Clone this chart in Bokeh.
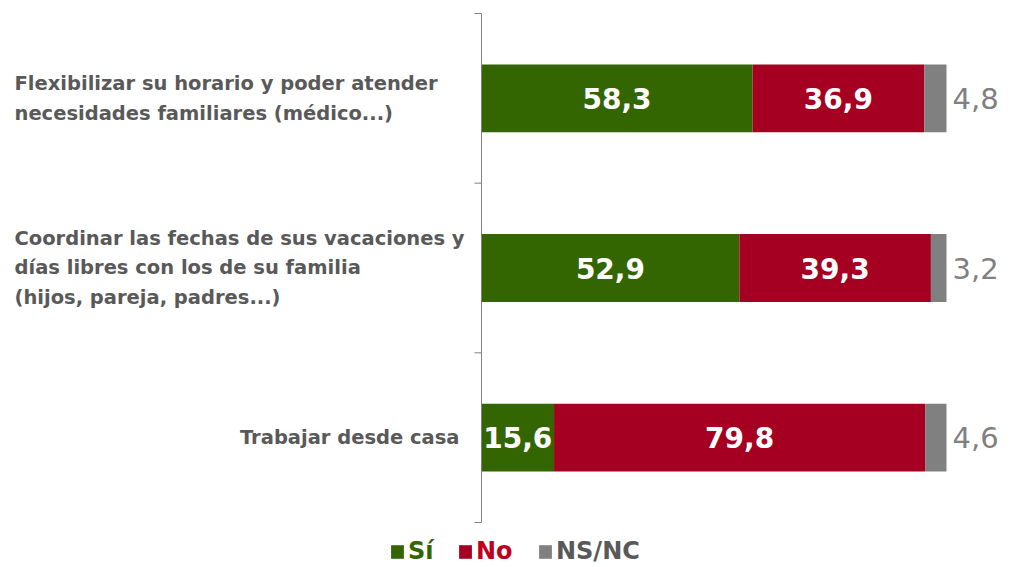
from bokeh.plotting import figure
from bokeh.models import ColumnDataSource, Legend, LegendItem, Range1d
from bokeh.core.properties import value
from bokeh.embed import file_html
from bokeh.resources import INLINE

# ---- data ----
categories = [
    "Flexibilizar su horario y poder atender\nnecesidades familiares (médico...)",
    "Coordinar las fechas de sus vacaciones y\ndías libres con los de su familia\n(hijos, pareja, padres...)",
    "Trabajar desde casa",
]
si = [58.3, 52.9, 15.6]
no = [36.9, 39.3, 79.8]
nsnc = [4.8, 3.2, 4.6]
series = ["Sí", "No", "NS/NC"]

colors = {"Sí": "#336600", "No": "#A50021", "NS/NC": "#808080"}
label_colors = {"Sí": "#336600", "No": "#C00020", "NS/NC": "#595959"}

def fmt(v):
    return f"{v:.1f}".replace(".", ",")

n = len(categories)
ypos = [n - 0.5 - i for i in range(n)]

# 100% stacked: each bar scaled to its row total
tot = [a + b + c for a, b, c in zip(si, no, nsnc)]
si_p = [100 * a / t for a, t in zip(si, tot)]
no_p = [100 * a / t for a, t in zip(no, tot)]
ns_p = [100 * a / t for a, t in zip(nsnc, tot)]

W, H = 1019, 565
# frame geometry in screen px (Bokeh page has no body margin)
L_screen, T_screen = 0, 0
R_screen, B_screen = W, H
x0_px, x100_px = 481, 946
sx = (x100_px - x0_px) / 100.0
y3_px, y0_px = 13, 522
sy = (y0_px - y3_px) / float(n)

x_start = -(x0_px - L_screen) / sx
x_end = (R_screen - x0_px) / sx
y_end = n + (y3_px - T_screen) / sy
y_start = -(B_screen - y0_px) / sy

p = figure(width=W, height=H, output_backend="svg", toolbar_location=None,
           x_range=Range1d(x_start, x_end), y_range=Range1d(y_start, y_end),
           x_axis_location=None, y_axis_location=None,
           min_border=0, outline_line_color=None, background_fill_color="white")
p.grid.visible = False

src = ColumnDataSource(dict(y=ypos, si=si_p, no=no_p, nsnc=ns_p))
rs = p.hbar_stack(["si", "no", "nsnc"], y="y", height=0.4, source=src,
                  color=[colors[s] for s in series], line_color=None)

# category axis: line at x = 0, ticks at category boundaries
tick_len = 7 / sx
p.segment(x0=[0], y0=[0], x1=[0], y1=[n], line_color="#808080", line_width=1)
bounds = list(range(n + 1))
p.segment(x0=[-tick_len] * len(bounds), y0=bounds, x1=[0] * len(bounds), y1=bounds,
          line_color="#808080", line_width=1)

# inner value labels
cx_si = [a / 2 for a in si_p]
cx_no = [a + b / 2 for a, b in zip(si_p, no_p)]
lab_src = ColumnDataSource(dict(
    x=cx_si + cx_no,
    y=ypos + ypos,
    t=[fmt(v) for v in si] + [fmt(v) for v in no],
))
p.text(x="x", y="y", text="t", source=lab_src, text_align="center", text_baseline="middle",
       text_color="white", text_font=value("DejaVu Sans"), text_font_style="bold",
       text_font_size="28px")

# outside NS/NC labels
end_p = [a + b + c for a, b, c in zip(si_p, no_p, ns_p)]
out_src = ColumnDataSource(dict(x=end_p, y=ypos, t=[fmt(v) for v in nsnc]))
p.text(x="x", y="y", text="t", source=out_src, x_offset=6, text_align="left",
       text_baseline="middle", text_color="#808080", text_font=value("DejaVu Sans"),
       text_font_size="29px")

# category labels
aligns = ["left" if "\n" in c else "right" for c in categories]
offs = [-467 if "\n" in c else -22 for c in categories]
cat_src = ColumnDataSource(dict(x=[0] * n, y=ypos, t=categories, a=aligns, o=offs))
p.text(x="x", y="y", text="t", source=cat_src, x_offset="o", text_align="a",
       text_baseline="middle", text_color="#595959", text_font=value("DejaVu Sans"),
       text_font_style="bold", text_font_size="19.5px", text_line_height=1.28)

# legend: one per series (own text colour)
leg_x = [389, 457, 537]
for r, s, lx in zip(rs, series, leg_x):
    lg = Legend(items=[LegendItem(label=s, renderers=[r])], location=(lx - L_screen, 0),
                orientation="horizontal", padding=0, margin=0, spacing=0,
                glyph_width=16, glyph_height=17, label_standoff=3, label_height=24,
                label_text_font="DejaVu Sans", label_text_font_style="bold",
                label_text_font_size="24px", label_text_color=label_colors[s],
                border_line_color=None, background_fill_alpha=0)
    p.add_layout(lg, "center")

open("out.html", "w").write(file_html(p, INLINE))
